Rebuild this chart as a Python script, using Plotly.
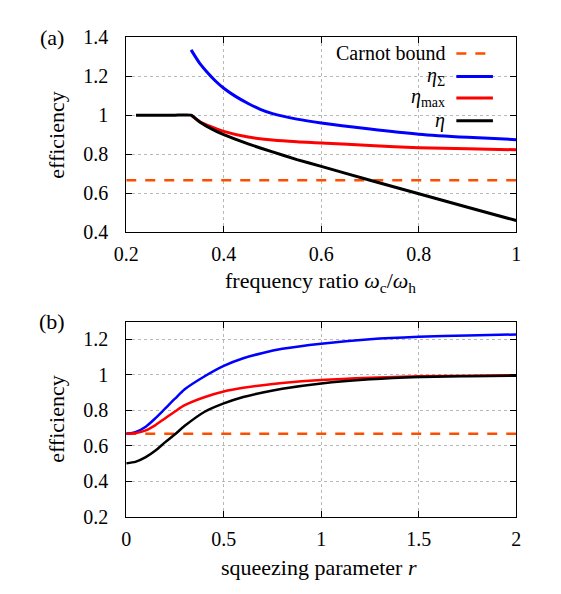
import plotly.graph_objects as go

# ---------- data: panel (a) ----------
ratio_sigma = [0.333, 0.35, 0.366, 0.383, 0.4, 0.425, 0.45, 0.475, 0.5, 0.55, 0.6, 0.7, 0.8, 0.9, 1.0]
eta_sigma_a = [1.334, 1.268, 1.220, 1.175, 1.138, 1.095, 1.060, 1.030, 1.008, 0.980, 0.960, 0.929, 0.903, 0.887, 0.875]

ratio_max = [0.333, 0.35, 0.375, 0.4, 0.45, 0.5, 0.55, 0.6, 0.7, 0.8, 0.9, 1.0]
eta_max_a = [1.0, 0.968, 0.940, 0.917, 0.888, 0.873, 0.864, 0.858, 0.845, 0.834, 0.828, 0.823]

ratio_eta = [0.22, 0.26, 0.30, 0.333, 0.35, 0.375, 0.4, 0.45, 0.5, 0.55, 0.6, 0.7, 0.8, 0.9, 1.0]
eta_a = [1.0, 1.0, 1.0, 1.0, 0.967, 0.930, 0.900, 0.853, 0.812, 0.773, 0.738, 0.667, 0.598, 0.529, 0.461]

ratio_carnot = [0.2, 1.0]
carnot_a = [2 / 3, 2 / 3]

# ---------- data: panel (b) ----------
r_vals = [0, 0.05, 0.1, 0.15, 0.2, 0.25, 0.3, 0.4, 0.5, 0.6, 0.7, 0.8, 1.0, 1.25, 1.5, 1.75, 2.0]
eta_sigma_b = [0.667, 0.678, 0.707, 0.755, 0.81, 0.865, 0.918, 0.99, 1.05, 1.093, 1.123, 1.146, 1.175, 1.200, 1.214, 1.222, 1.227]
eta_max_b = [0.667, 0.671, 0.686, 0.716, 0.755, 0.793, 0.828, 0.873, 0.905, 0.926, 0.941, 0.953, 0.970, 0.983, 0.991, 0.995, 0.997]
eta_b = [0.500, 0.510, 0.535, 0.572, 0.620, 0.664, 0.712, 0.790, 0.838, 0.874, 0.900, 0.921, 0.951, 0.974, 0.987, 0.992, 0.995]

r_carnot = [0, 2.0]
carnot_b = [2 / 3, 2 / 3]

x_ticks_a = [0.2, 0.4, 0.6, 0.8, 1.0]
x_tick_text_a = ["0.2", "0.4", "0.6", "0.8", "1"]
y_ticks_a = [0.4, 0.6, 0.8, 1.0, 1.2, 1.4]
y_tick_text_a = ["0.4", "0.6", "0.8", "1", "1.2", "1.4"]
x_ticks_b = [0, 0.5, 1.0, 1.5, 2.0]
x_tick_text_b = ["0", "0.5", "1", "1.5", "2"]
y_ticks_b = [0.2, 0.4, 0.6, 0.8, 1.0, 1.2]
y_tick_text_b = ["0.2", "0.4", "0.6", "0.8", "1", "1.2"]

legend_names = ["Carnot bound", "<i>η</i><sub>Σ</sub>", "<i>η</i><sub>max</sub>", "<i>η</i>"]
legend_y = [1.316, 1.198, 1.088, 0.972]

# ---------- styling ----------
FONT = "Liberation Serif"
TICK_SIZE = 20
TEXT_SIZE = 22
LEGEND_SIZE = 20
ORANGE = "#ff4d00"
BLUE = "#0000ff"
RED = "#ff0000"
BLACK = "#000000"
W = 561
H = 594

fig = go.Figure()


def add_line(x, y, color, width, xa, ya, dash=None, shape="spline", smoothing=0.8):
    fig.add_trace(go.Scatter(
        x=x, y=y, mode="lines", xaxis=xa, yaxis=ya, showlegend=False,
        line=dict(color=color, width=width, dash=dash, shape=shape,
                  smoothing=smoothing if shape == "spline" else None),
        hoverinfo="skip"))


# panel (a)
add_line(ratio_carnot, carnot_a, ORANGE, 2.5, "x", "y", dash="10px,9px", shape="linear")
add_line(ratio_sigma, eta_sigma_a, BLUE, 3, "x", "y")
add_line(ratio_max, eta_max_a, RED, 3, "x", "y")
add_line(ratio_eta, eta_a, BLACK, 3, "x", "y", smoothing=0.4)

# panel (b)
add_line(r_carnot, carnot_b, ORANGE, 2.5, "x2", "y2", dash="10px,9px", shape="linear")
add_line(r_vals, eta_sigma_b, BLUE, 2.5, "x2", "y2")
add_line(r_vals, eta_max_b, RED, 2.5, "x2", "y2")
add_line(r_vals, eta_b, BLACK, 2.5, "x2", "y2")

xdom = [117 / W, 520 / W]
ydom_a = [1 - 230 / H, 1 - 27 / H]
ydom_b = [1 - 525 / H, 1 - 322.5 / H]

axis_common = dict(
    showline=True, linecolor="black", linewidth=1, mirror="allticks",
    ticks="inside", ticklen=6, tickcolor="black", tickwidth=1,
    showgrid=True, gridcolor="#b8b8b8", griddash="dot", gridwidth=1,
    zeroline=False, tickfont=dict(family=FONT, size=TICK_SIZE, color="black"),
)

fig.update_layout(
    width=W, height=H, margin=dict(l=0, r=0, t=0, b=0),
    paper_bgcolor="white", plot_bgcolor="white",
    font=dict(family=FONT, size=TEXT_SIZE, color="black"),
    xaxis=dict(domain=xdom, range=[0.2, 1.0], tickvals=x_ticks_a, ticktext=x_tick_text_a,
               anchor="y", ticklabelstandoff=4, **axis_common),
    yaxis=dict(domain=ydom_a, range=[0.4, 1.4], tickvals=y_ticks_a, ticktext=y_tick_text_a,
               anchor="x", ticklabelstandoff=13, **axis_common),
    xaxis2=dict(domain=xdom, range=[0, 2.0], tickvals=x_ticks_b, ticktext=x_tick_text_b,
                anchor="y2", ticklabelstandoff=4, **axis_common),
    yaxis2=dict(domain=ydom_b, range=[0.2, 1.3], tickvals=y_ticks_b, ticktext=y_tick_text_b,
                anchor="x2", ticklabelstandoff=13, **axis_common),
)


def paper_text(text, px, py, angle=0):
    return dict(text=text, x=px / W, y=1 - py / H, xref="paper", yref="paper",
                xanchor="center", yanchor="middle", textangle=angle, showarrow=False,
                font=dict(family=FONT, size=TEXT_SIZE, color="black"))


ann = [
    paper_text("efficiency", 45, 129, -90),
    paper_text("efficiency", 45, 424, -90),
    paper_text("frequency ratio <i>ω</i><sub>c</sub>/<i>ω</i><sub>h</sub>", 318, 281),
    paper_text("squeezing parameter <i>r</i>", 316, 578),
    paper_text("(a)", 40, 28),
    paper_text("(b)", 40, 322),
]

# manual legend (text left of sample line, gnuplot style) with opaque key box
shapes = [dict(type="rect", xref="x", yref="y", x0=0.555, x1=0.975, y0=0.945, y1=1.4,
               fillcolor="white", line=dict(width=0), layer="below")]
legend_colors = [ORANGE, BLUE, RED, BLACK]
for name, yy, col in zip(legend_names, legend_y, legend_colors):
    ann.append(dict(text=name, x=0.855, y=yy, xref="x", yref="y", xanchor="right", yanchor="middle",
                    borderpad=0, showarrow=False,
                    font=dict(family=FONT, size=LEGEND_SIZE, color="black")))
    shapes.append(dict(type="line", xref="x", yref="y", x0=0.877, x1=0.952, y0=yy, y1=yy,
                       line=dict(color=col, width=3 if col != ORANGE else 2.5,
                                 dash="10px,9px" if col == ORANGE else "solid")))

fig.update_layout(annotations=ann, shapes=shapes)

fig.write_html("out.html")
